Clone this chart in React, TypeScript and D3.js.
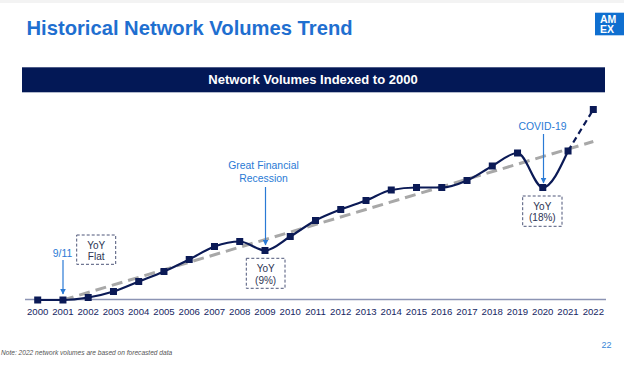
import * as d3 from 'd3'

const years = d3.range(2000, 2023)
// network volumes indexed to 2000
const volumes = [100, 100, 105, 117, 137, 157, 181, 207, 217, 199, 227, 259, 281, 299, 320, 325, 325, 339, 368, 394, 325, 398, 481]
const trendYears = [2001, 2022]
const trendValues = [100, 417]

const annotations = [
  { year: 2001, label: ['9/11'], box: ['YoY', 'Flat'] },
  { year: 2009, label: ['Great Financial', 'Recession'], box: ['YoY', '(9%)'] },
  { year: 2020, label: ['COVID-19'], box: ['YoY', '(18%)'] },
]

const NAVY = '#0b1a56'
const BLUE = '#2a7ad5'
const FONT = '"Liberation Sans", Arial, sans-serif'

export default function App() {
  const width = 624
  const height = 372

  const x = d3.scaleLinear().domain([2000, 2022]).range([37.7, 593.3])
  const y = d3.scaleLinear().domain([100, 500]).range([300, 100])

  const pts = years.map((yr, i) => ({ yr, v: volumes[i] }))
  const actual = pts.filter((d) => d.yr <= 2021)
  const forecast = pts.filter((d) => d.yr >= 2021)

  const smooth = d3
    .line<{ yr: number; v: number }>()
    .x((d) => x(d.yr))
    .y((d) => y(d.v))
    .curve(d3.curveMonotoneX)
  const straight = d3
    .line<{ yr: number; v: number }>()
    .x((d) => x(d.yr))
    .y((d) => y(d.v))

  const trend = trendYears.map((yr, i) => ({ yr, v: trendValues[i] }))

  // annotation placement (label / arrow / box offsets)
  const ann = [
    { labelX: 62.5, labelY: 253, arrowFrom: 260, arrowTo: 294, arrowX: 63, bx: 76.7, by: 235, bw: 39, bh: 29.3 },
    { labelX: 263.5, labelY: 165.5, arrowFrom: 187, arrowTo: 245, arrowX: 265.5, bx: 246.3, by: 258.3, bw: 38.7, bh: 30 },
    { labelX: 542.5, labelY: 126, arrowFrom: 134, arrowTo: 183, arrowX: 543.5, bx: 522.7, by: 196, bw: 39.3, bh: 30.3 },
  ]

  return (
    <svg
      width={width}
      height={height}
      style={{ position: 'fixed', left: 0, top: 0, background: '#fff', fontFamily: FONT }}
    >
      <defs>
        <marker id="arr" viewBox="0 0 10 10" refX="9" refY="5" markerWidth="5" markerHeight="5" orient="auto">
          <path d="M0,0 L10,5 L0,10 z" fill={BLUE} />
        </marker>
      </defs>
      <rect x={0} y={0} width={width} height={3} fill="#f3f3f3" />

      <text x={26.5} y={34.5} fontSize={20.2} fontWeight="bold" fill="#1f6fd0">
        Historical Network Volumes Trend
      </text>

      <rect x={595} y={12.7} width={29} height={22.6} fill="#0f6fd0" />
      <text x={600} y={22.5} fontSize={10.5} fontWeight="bold" fill="#fff">AM</text>
      <text x={600} y={33} fontSize={10.5} fontWeight="bold" fill="#fff">EX</text>

      <rect x={22} y={67.3} width={583} height={25} fill="#031856" />
      <text x={313} y={84} fontSize={13} fontWeight="bold" fill="#fff" textAnchor="middle">
        Network Volumes Indexed to 2000
      </text>

      <line x1={25} x2={606} y1={299.5} y2={299.5} stroke="#8c94b4" strokeWidth={1.5} />
      {years.map((yr) => (
        <text key={yr} x={x(yr)} y={315} fontSize={9.6} fill="#152663" textAnchor="middle">
          {yr}
        </text>
      ))}

      <path d={straight(trend) || ''} fill="none" stroke="#a8a8a8" strokeWidth={3} strokeDasharray="11,6" />

      <path d={smooth(actual) || ''} fill="none" stroke={NAVY} strokeWidth={2.2} />
      <path d={straight(forecast) || ''} fill="none" stroke={NAVY} strokeWidth={2.2} strokeDasharray="6,4" />
      {pts.map((d) => (
        <rect key={d.yr} x={x(d.yr) - 3.5} y={y(d.v) - 3.5} width={7} height={7} fill={NAVY} />
      ))}

      {annotations.map((a, i) => {
        const p = ann[i]
        return (
          <g key={a.year}>
            {a.label.map((t, j) => (
              <text key={t} x={p.labelX} y={p.labelY + j * 12.7 + 3.6} fontSize={10.4} fill={BLUE} textAnchor="middle">
                {t}
              </text>
            ))}
            <line
              x1={p.arrowX}
              x2={p.arrowX}
              y1={p.arrowFrom}
              y2={p.arrowTo}
              stroke={BLUE}
              strokeWidth={1.2}
              markerEnd="url(#arr)"
            />
            <rect
              x={p.bx}
              y={p.by}
              width={p.bw}
              height={p.bh}
              fill="#fff"
              stroke="#4d5578"
              strokeWidth={1}
              strokeDasharray="3,2"
            />
            {a.box.map((t, j) => (
              <text
                key={t}
                x={p.bx + p.bw / 2}
                y={p.by + 10.7 + j * 11.2 + 3.4}
                fontSize={10}
                fill="#2c3352"
                textAnchor="middle"
              >
                {t}
              </text>
            ))}
          </g>
        )
      })}

      <text x={1} y={355} fontSize={6.6} fontStyle="italic" fill="#555">
        Note: 2022 network volumes are based on forecasted data
      </text>
      <text x={611.5} y={347.5} fontSize={9} fill="#3a86d8" textAnchor="end">22</text>
    </svg>
  )
}
